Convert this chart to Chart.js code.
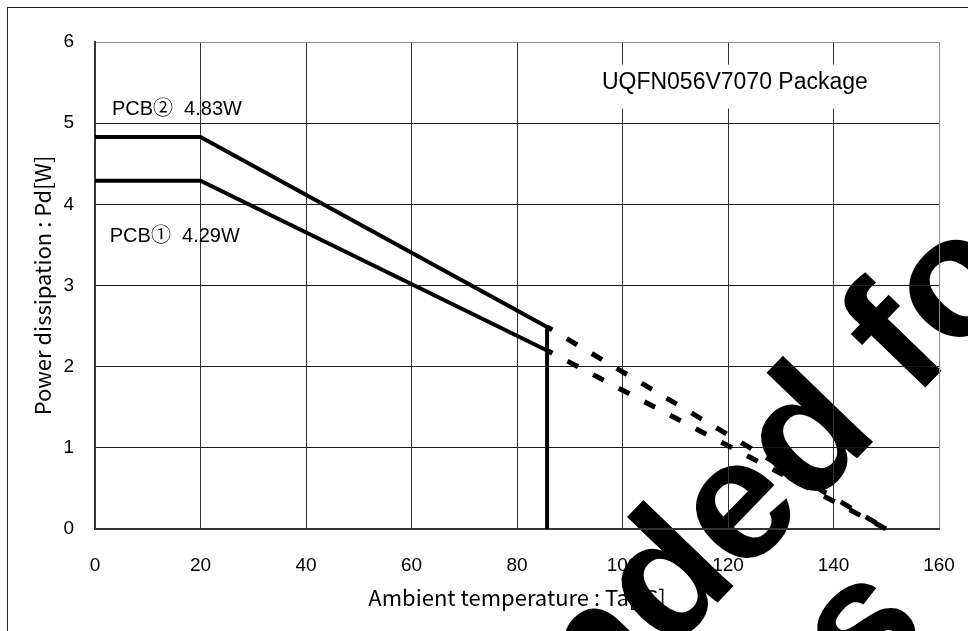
<!DOCTYPE html>
<html>
<head>
<meta charset="utf-8">
<title>Power dissipation vs ambient temperature</title>
<script src="https://cdn.jsdelivr.net/npm/chart.js@4.4.1/dist/chart.umd.min.js"></script>
<style>
  html, body { margin: 0; padding: 0; background: #fff; }
  canvas { display: block; }
</style>
</head>
<body>
<canvas id="pd-chart" width="968" height="631"></canvas>
<script>
// Derating curves: ambient temperature [degC] -> allowable dissipation [W]
const pcb2Temps = [0, 20, 85.7, 85.7];
const pcb2Power = [4.83, 4.83, 2.49, 0];
const pcb2ExtTemps = [85.7, 150];
const pcb2ExtPower = [2.49, 0];

const pcb1Temps = [0, 20, 85.7];
const pcb1Power = [4.29, 4.29, 2.2];
const pcb1ExtTemps = [85.7, 150];
const pcb1ExtPower = [2.2, 0];

const xTicks = [0, 20, 40, 60, 80, 100, 120, 140, 160];
const yTicks = [0, 1, 2, 3, 4, 5, 6];

const curveLabels = ['PCB\u2461  4.83W', 'PCB\u2460  4.29W'];
const packageName = 'UQFN056V7070 Package';
const xTitle = 'Ambient temperature : Ta[\u2103]';
const yTitle = 'Power dissipation : Pd[W]';
const stampLines = ['Not Recommended for', 'New Designs'];

const sansFont = '"Liberation Sans", Arial, "Noto Sans CJK JP", sans-serif';
const gothicFont = '"Noto Sans CJK JP", "Liberation Sans", sans-serif';

function toPoints(xs, ys) {
    return xs.map(function(x, i) { return { x: x, y: ys[i] }; });
}

function solidSet(xs, ys) {
    return {
        data: toPoints(xs, ys),
        borderColor: '#000',
        borderWidth: 4,
        borderJoinStyle: 'miter',
        pointRadius: 0,
        tension: 0,
        fill: false,
        clip: false
    };
}

function dashedSet(xs, ys) {
    const set = solidSet(xs, ys);
    set.borderWidth = 5;
    set.borderDash = [12, 17];
    set.borderDashOffset = 6;
    return set;
}

// Background, stamp, frame and in-plot captions
const decorPlugin = {
    id: 'decor',
    beforeDraw(chart) {
        const ctx = chart.ctx;
        ctx.save();
        ctx.fillStyle = '#fff';
        ctx.fillRect(0, 0, chart.width, chart.height);

        // big diagonal stamp behind the plot
        ctx.translate(743, 513);
        ctx.rotate(-46 * Math.PI / 180);
        ctx.font = 'bold 172px ' + sansFont;
        ctx.fillStyle = '#000';
        ctx.textBaseline = 'alphabetic';
        const off1 = ctx.measureText('Not Recommend').width + ctx.measureText('e').width / 2;
        ctx.fillText(stampLines[0], -off1, 44);
        const off2 = ctx.measureText('New Design').width + ctx.measureText('s').width / 2;
        ctx.fillText(stampLines[1], -off2, 216);
        ctx.restore();
    },
    beforeDatasetsDraw(chart) {
        const ctx = chart.ctx;
        const xs = chart.scales.x;
        const ys = chart.scales.y;
        ctx.save();
        // package name sits on a white box over the grid
        const cx = xs.getPixelForValue(121.3);
        const cy = ys.getPixelForValue(5.5);
        ctx.fillStyle = '#fff';
        ctx.fillRect(cx - 146, cy - 18, 292, 44);
        ctx.fillStyle = '#000';
        ctx.font = '23px ' + sansFont;
        ctx.textAlign = 'center';
        ctx.textBaseline = 'middle';
        ctx.fillText(packageName, cx, cy);

        ctx.font = '20px ' + sansFont;
        ctx.textAlign = 'left';
        ctx.fillText(curveLabels[0], xs.getPixelForValue(3.2), ys.getPixelForValue(5.17));
        ctx.fillText(curveLabels[1], xs.getPixelForValue(2.8), ys.getPixelForValue(3.6));
        ctx.restore();
    },
    afterDraw(chart) {
        const ctx = chart.ctx;
        ctx.save();
        ctx.strokeStyle = '#222';
        ctx.lineWidth = 1;
        ctx.strokeRect(7.5, 7.5, 2000, 2000);
        ctx.restore();
    }
};

new Chart(document.getElementById('pd-chart'), {
    type: 'line',
    data: {
        datasets: [
            solidSet(pcb2Temps, pcb2Power),
            solidSet(pcb1Temps, pcb1Power),
            dashedSet(pcb2ExtTemps, pcb2ExtPower),
            dashedSet(pcb1ExtTemps, pcb1ExtPower)
        ]
    },
    options: {
        responsive: false,
        animation: false,
        devicePixelRatio: 1,
        layout: { padding: { top: 42, right: 29, left: 0, bottom: 0 } },
        plugins: {
            legend: { display: false },
            tooltip: { enabled: false }
        },
        scales: {
            x: {
                type: 'linear',
                min: xTicks[0],
                max: xTicks[xTicks.length - 1],
                afterBuildTicks: function(scale) {
                    scale.ticks = xTicks.map(function(v) { return { value: v }; });
                },
                afterFit: function(scale) {
                    scale.height = 102;
                    scale.paddingLeft = 0;
                    scale.paddingRight = 0;
                },
                grid: {
                    color: function(c) { return c.tick && c.tick.value === 160 ? '#8c8c8c' : '#333'; },
                    lineWidth: 1,
                    drawTicks: false
                },
                border: { color: '#333', width: 2 },
                ticks: {
                    padding: 25,
                    color: '#000',
                    font: { family: sansFont, size: 19 }
                },
                title: {
                    display: true,
                    text: xTitle,
                    color: '#000',
                    font: { family: gothicFont, size: 22 },
                    padding: { top: 0, bottom: 20 }
                }
            },
            y: {
                type: 'linear',
                min: yTicks[0],
                max: yTicks[yTicks.length - 1],
                afterBuildTicks: function(scale) {
                    scale.ticks = yTicks.map(function(v) { return { value: v }; });
                },
                afterFit: function(scale) {
                    scale.width = 95;
                    scale.paddingTop = 0;
                    scale.paddingBottom = 0;
                },
                grid: {
                    color: function(c) { return c.tick && c.tick.value === 6 ? '#8c8c8c' : '#1a1a1a'; },
                    lineWidth: 1,
                    drawTicks: false
                },
                border: { color: '#333', width: 2 },
                ticks: {
                    padding: 21,
                    color: '#000',
                    font: { family: sansFont, size: 19 }
                },
                title: {
                    display: true,
                    text: yTitle,
                    color: '#000',
                    font: { family: gothicFont, size: 22 },
                    padding: { top: 29, bottom: 0 }
                }
            }
        }
    },
    plugins: [decorPlugin]
});
</script>
</body>
</html>
